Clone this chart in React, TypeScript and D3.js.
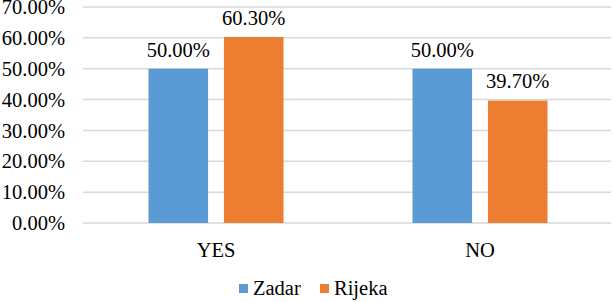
import React from "react";
import * as d3 from "d3";

const categories = ["YES", "NO"];
const seriesNames = ["Zadar", "Rijeka"];
const zadar = [50.0, 50.0];
const rijeka = [60.3, 39.7];
const yTicks = [0, 10, 20, 30, 40, 50, 60, 70];
const colors = ["#5B9BD5", "#ED7D31"];

const W = 613;
const H = 302;
const FONT = "'Times New Roman', Times, 'Liberation Serif', serif";
const txt = { fontFamily: FONT, fontSize: 20.5 };

export default function App() {
  const left = 83;
  const right = 611;
  const top = 7;
  const bottom = 223;

  const x = d3.scaleBand<string>().domain(categories).range([left, right]);
  const inner = d3
    .scaleBand<string>()
    .domain(seriesNames)
    .range([0, 135])
    .paddingInner(0.21);
  const y = d3.scaleLinear().domain([0, 70]).range([bottom, top]);

  const values = [zadar, rijeka];
  const fmt = (v: number) => v.toFixed(2) + "%";

  return (
    <svg
      width={W}
      height={H}
      style={{ position: "absolute", left: 0, top: 0, background: "#fff" }}
    >
      {yTicks.map((t) => (
        <g key={t}>
          <line x1={left} x2={right} y1={y(t)} y2={y(t)} stroke="#d9d9d9" strokeWidth={1.5} />
          <text x={65} y={y(t)} dy="0.35em" textAnchor="end" style={txt} fill="#000">
            {fmt(t)}
          </text>
        </g>
      ))}
      {categories.map((c, ci) => {
        const cx = x(c)! + x.bandwidth() / 2;
        const g0 = cx - 135 / 2 + 1;
        return (
          <g key={c}>
            {seriesNames.map((s, si) => {
              const v = values[si][ci];
              const bx = g0 + inner(s)!;
              return (
                <g key={s}>
                  <rect
                    x={bx}
                    y={y(v)}
                    width={inner.bandwidth()}
                    height={y(0) - y(v)}
                    fill={colors[si]}
                  />
                  <text
                    x={bx + inner.bandwidth() / 2}
                    y={y(v) - 12}
                    textAnchor="middle"
                    style={txt}
                    fill="#000"
                  >
                    {fmt(v)}
                  </text>
                </g>
              );
            })}
            <text x={cx + 1} y={256.5} textAnchor="middle" style={txt} fill="#000">
              {c}
            </text>
          </g>
        );
      })}
      <g>
        {seriesNames.map((s, i) => {
          const lx = i === 0 ? 239 : 320;
          return (
            <g key={s}>
              <rect x={lx} y={284} width={9} height={9} fill={colors[i]} />
              <text x={lx + 14} y={295} style={txt} fill="#000">
                {s}
              </text>
            </g>
          );
        })}
      </g>
    </svg>
  );
}
